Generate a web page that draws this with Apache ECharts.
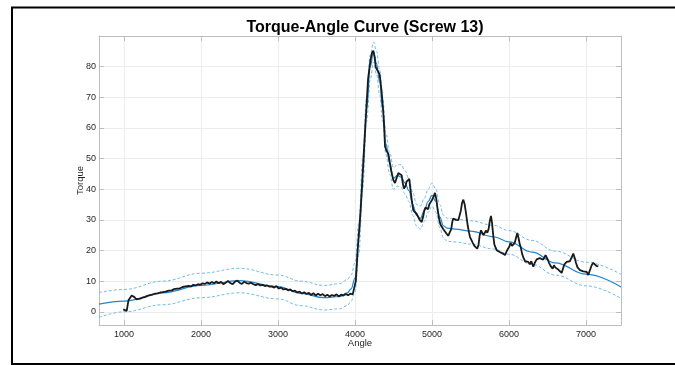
<!DOCTYPE html>
<html>
<head>
<meta charset="utf-8">
<script src="https://cdn.jsdelivr.net/npm/echarts@6/dist/echarts.min.js"></script>
<style>
  html, body { margin: 0; padding: 0; background: #fff; }
  #app { width: 675px; height: 365px; }
</style>
</head>
<body>
<div id="app"></div>
<script>
// measured torque (black trace)
const torqueAngle = [990, 1010, 1035, 1050, 1058, 1080, 1100, 1113, 1135, 1160, 1180, 1210, 1240, 1270, 1300, 1330, 1360, 1400, 1440, 1470, 1500, 1540, 1580, 1620, 1650, 1690, 1720, 1760, 1800, 1840, 1870, 1900, 1930, 1960, 1990, 2020, 2050, 2080, 2110, 2140, 2170, 2200, 2230, 2260, 2290, 2320, 2350, 2380, 2410, 2440, 2470, 2500, 2530, 2560, 2590, 2620, 2650, 2680, 2710, 2740, 2770, 2800, 2830, 2860, 2890, 2920, 2950, 2980, 3010, 3040, 3070, 3100, 3130, 3160, 3190, 3220, 3250, 3280, 3310, 3340, 3370, 3400, 3430, 3460, 3490, 3520, 3550, 3580, 3610, 3640, 3670, 3700, 3730, 3760, 3790, 3820, 3850, 3880, 3910, 3940, 3970, 3990, 4010, 4040, 4070, 4090, 4110, 4140, 4170, 4200, 4220, 4238, 4255, 4270, 4290, 4320, 4345, 4365, 4380, 4390, 4410, 4433, 4450, 4470, 4498, 4520, 4545, 4563, 4585, 4606, 4620, 4636, 4655, 4670, 4690, 4705, 4720, 4740, 4757, 4780, 4800, 4820, 4840, 4866, 4885, 4900, 4915, 4931, 4950, 4965, 4983, 5000, 5020, 5039, 5055, 5075, 5095, 5110, 5126, 5145, 5165, 5190, 5210, 5234, 5250, 5265, 5277, 5295, 5310, 5326, 5342, 5360, 5375, 5390, 5407, 5425, 5440, 5450, 5465, 5480, 5494, 5510, 5530, 5550, 5570, 5588, 5605, 5620, 5636, 5655, 5670, 5688, 5700, 5718, 5735, 5750, 5766, 5780, 5795, 5810, 5825, 5840, 5860, 5880, 5900, 5920, 5948, 5965, 5985, 6004, 6020, 6040, 6056, 6075, 6090, 6108, 6125, 6140, 6152, 6170, 6190, 6210, 6230, 6251, 6270, 6290, 6316, 6335, 6360, 6380, 6400, 6425, 6445, 6460, 6475, 6490, 6505, 6520, 6540, 6567, 6585, 6600, 6619, 6640, 6660, 6684, 6700, 6720, 6749, 6770, 6790, 6810, 6835, 6855, 6870, 6890, 6922, 6945, 6965, 6990, 7010, 7030, 7050, 7074, 7095, 7117, 7135, 7150, 7160];
const torqueValue = [0.8, 0.5, 0.3, 0.2, 3.8, 4.6, 5.3, 5.5, 4.8, 4.1, 3.9, 4.3, 4.6, 4.8, 5.1, 5.4, 5.5, 5.9, 6.0, 6.3, 6.4, 6.6, 6.9, 7.0, 7.4, 7.6, 7.6, 8.1, 8.3, 8.5, 8.3, 8.8, 8.6, 9.0, 8.8, 9.3, 9.1, 9.6, 9.2, 9.7, 9.3, 9.9, 9.3, 9.8, 9.0, 9.5, 10.1, 9.4, 9.0, 9.8, 10.2, 9.5, 9.1, 9.8, 9.4, 9.2, 9.5, 9.0, 8.7, 9.1, 8.6, 8.8, 8.4, 8.6, 8.2, 8.3, 7.9, 8.4, 7.6, 7.9, 7.3, 7.5, 7.0, 7.3, 6.7, 6.9, 6.3, 6.6, 6.0, 6.4, 5.8, 6.2, 5.5, 6.1, 5.3, 5.9, 5.4, 5.8, 5.1, 5.6, 5.0, 5.5, 5.2, 5.7, 5.0, 5.6, 5.3, 5.8, 5.4, 5.9, 5.7, 6.0, 10, 22, 32, 40, 50, 63, 76, 82, 84.5, 85.2, 83, 79.8, 79.3, 77.5, 72, 66, 60, 54, 52.5, 51.6, 49, 46, 43, 42, 44, 45.3, 45, 44.6, 42, 40.2, 41, 42.5, 43, 43.4, 40, 36, 33.1, 33.5, 32, 31.5, 30, 29.3, 31, 33, 34, 34.2, 33.5, 35, 35.8, 36.5, 37.5, 38.8, 37, 33, 30, 28.5, 28.8, 27, 26.5, 25.5, 24.8, 24.4, 27, 29.5, 30.4, 30.5, 30, 30.5, 29.9, 30.5, 33, 35.5, 36.6, 35, 32.5, 32, 28, 26, 24.4, 24, 22.5, 21.5, 21, 20.6, 22, 25, 26.6, 26, 25, 25.5, 26.5, 25.8, 27, 29.5, 31.3, 29, 25, 22, 21, 20.1, 20.5, 19.5, 20, 19, 18.5, 19.5, 20.5, 21.2, 22.5, 21.5, 22, 22.5, 24, 25.7, 24, 22, 21.2, 19, 17.5, 16.5, 17, 16.3, 15.5, 16.5, 14.7, 16, 17.1, 16.8, 17.5, 17.4, 17, 17.8, 18.5, 18.5, 17, 16, 15, 14.1, 15.2, 14.5, 14.8, 13.8, 14, 12.7, 14, 15.5, 16.3, 16, 16.5, 17.5, 19, 17.5, 16, 14.5, 13.6, 13.8, 13.2, 13.5, 13, 12, 13.5, 15.2, 16, 15.8, 15, 15.5, 14.8];

// fitted curve and its bounds
const fitAngle = [675, 1000, 1500, 2000, 2500, 3000, 3300, 3600, 3800, 3900, 3950, 4000, 4050, 4100, 4150, 4200, 4240, 4280, 4320, 4360, 4400, 4450, 4500, 4550, 4600, 4650, 4700, 4750, 4800, 4850, 4900, 4950, 5000, 5050, 5100, 5150, 5200, 5300, 5500, 5800, 6000, 6300, 6600, 7000, 7455];
const fitValue = [2.5, 3.5, 6.2, 8.6, 10.2, 8.2, 6.0, 4.6, 5.0, 6.2, 7.5, 11, 24, 45, 66, 80, 85, 81, 75, 66, 55, 48.5, 43.5, 44.5, 44, 42, 39.5, 35, 31.5, 30.5, 33, 36, 38, 36, 31, 28, 27.3, 27, 26.3, 24.5, 22.8, 19.5, 16, 12.3, 8.1];
const upperValue = [6.3, 7.3, 10, 12.6, 14.2, 12, 10, 8.6, 9.2, 10.5, 12, 16, 29, 50, 70, 84, 88, 85, 79, 70, 58.5, 52, 47, 48, 48, 46, 43.5, 39, 35, 34.5, 37, 40, 42, 40, 35, 31.5, 30.5, 30.3, 29.7, 28.2, 26.5, 23.3, 19.8, 16.2, 12.2];
const lowerValue = [-1.8, 0, 2.3, 4.6, 6.2, 4.2, 2, 0.6, 1, 2, 3.5, 6.5, 19, 40, 62, 76, 81.5, 77.5, 71, 62, 51.5, 45, 40, 41, 40.5, 38.5, 36, 31.5, 28, 27, 29.5, 32.5, 34.5, 32.5, 27.5, 24, 23, 22.8, 22.1, 20.5, 18.8, 15.5, 12, 8.5, 4.4];

const xTicks = [1000, 2000, 3000, 4000, 5000, 6000, 7000];
const yTicks = [0, 10, 20, 30, 40, 50, 60, 70, 80];

const pairs = (xs, ys) => xs.map((x, i) => [x, ys[i]]);

const axisGray = "#bdbdbd";
const textColor = "#262626";
const font = "Liberation Sans, Arial, Helvetica, sans-serif";

const dom = document.getElementById("app");
const myChart = echarts.init(dom, null, { renderer: "canvas" });

function xAxisOf(position, showLabel) {
  return {
    type: "value",
    position: position,
    min: 675,
    max: 7455,
    name: showLabel ? "Angle" : "",
    nameLocation: "middle",
    nameGap: 13,
    nameMoveOverlap: false,
    nameTextStyle: { color: textColor, fontSize: 9.5, fontFamily: font },
    axisLine: { show: true, onZero: false, lineStyle: { color: axisGray, width: 1 } },
    axisTick: { show: true, inside: true, length: 5, customValues: xTicks, lineStyle: { color: axisGray } },
    axisLabel: { show: showLabel, customValues: xTicks, formatter: (v) => String(v), color: textColor, fontSize: 9, fontFamily: font, margin: 5 },
    splitLine: { show: showLabel, lineStyle: { color: "#ececec", width: 1 } }
  };
}

function yAxisOf(position, showLabel) {
  return {
    type: "value",
    position: position,
    min: -4.3,
    max: 90,
    name: showLabel ? "Torque" : "",
    nameLocation: "middle",
    nameGap: 14,
    nameMoveOverlap: false,
    nameTextStyle: { color: textColor, fontSize: 9.5, fontFamily: font },
    axisLine: { show: true, onZero: false, lineStyle: { color: axisGray, width: 1 } },
    axisTick: { show: true, inside: true, length: 5, customValues: yTicks, lineStyle: { color: axisGray } },
    axisLabel: { show: showLabel, customValues: yTicks, formatter: (v) => String(v), color: textColor, fontSize: 9, fontFamily: font, margin: 3 },
    splitLine: { show: showLabel, lineStyle: { color: "#ececec", width: 1 } }
  };
}

const dashed = {
  type: "line",
  showSymbol: false,
  symbol: "none",
  smooth: 0.4,
  smoothMonotone: "x",
  lineStyle: { color: "#72bde8", width: 1, type: [3, 2] },
  z: 2
};

myChart.setOption({
  animation: false,
  backgroundColor: "#fff",
  title: {
    text: "Torque-Angle Curve (Screw 13)",
    left: 360,
    top: 15,
    textAlign: "center",
    textStyle: { fontSize: 16, fontWeight: "bold", color: "#000", fontFamily: font }
  },
  grid: { left: 99, right: 54, top: 36, bottom: 40, containLabel: false },
  xAxis: [xAxisOf("bottom", true), xAxisOf("top", false)],
  yAxis: [yAxisOf("left", true), yAxisOf("right", false)],
  graphic: [
    {
      type: "rect",
      shape: { x: 12, y: 7.5, width: 720, height: 356.5 },
      style: { fill: "none", stroke: "#000", lineWidth: 2 },
      silent: true,
      z: 100
    }
  ],
  series: [
    Object.assign({}, dashed, { name: "Upper", data: pairs(fitAngle, upperValue) }),
    Object.assign({}, dashed, { name: "Lower", data: pairs(fitAngle, lowerValue) }),
    {
      name: "Fit",
      type: "line",
      symbol: "none",
      smooth: 0.4,
      smoothMonotone: "x",
      data: pairs(fitAngle, fitValue),
      lineStyle: { color: "#1f86d0", width: 1.2 },
      z: 3
    },
    {
      name: "Torque",
      type: "line",
      symbol: "none",
      data: pairs(torqueAngle, torqueValue),
      lineStyle: { color: "#1a1a1a", width: 1.8 },
      z: 4
    }
  ]
});
</script>
</body>
</html>
